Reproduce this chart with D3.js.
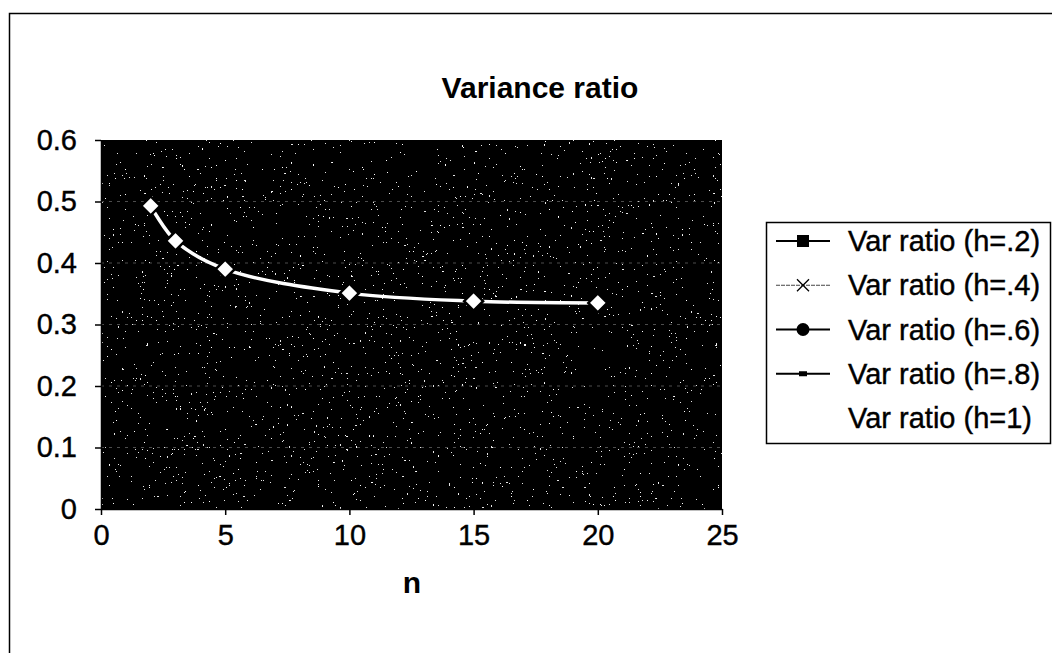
<!DOCTYPE html>
<html>
<head>
<meta charset="utf-8">
<script src="https://cdn.jsdelivr.net/npm/d3@7"></script>
<style>
  html, body { margin: 0; padding: 0; background: #fff; }
  svg { display: block; font-family: "Liberation Sans", Arial, Helvetica, sans-serif; }
</style>
</head>
<body>
<svg id="chart" width="1052" height="653"></svg>
<script>
// Chart data
const nValues = [2, 3, 5, 10, 15, 20];
const varRatioH1 = [0.493, 0.436, 0.390, 0.351, 0.338, 0.335];
const seriesNames = [
  "Var ratio (h=.2)",
  "Var ratio (h=.4)",
  "Var ratio (h=.6)",
  "Var ratio (h=.8)",
  "Var ratio (h=1)"
];
const seriesMarkers = ["square", "cross", "circle", "dash", "diamond"];
const yTicks = [0, 0.1, 0.2, 0.3, 0.4, 0.5, 0.6];
const xTicks = [0, 5, 10, 15, 20, 25];

const svg = d3.select("#chart");
const W = 1052, H = 653;
const plot = { left: 101, right: 722, top: 140, bottom: 509 };
const fontSize = 29;

// Outer chart frame (runs off the right and bottom edges)
svg.append("rect")
  .attr("x", 9.5).attr("y", 13.5)
  .attr("width", W + 20).attr("height", H + 20)
  .attr("fill", "#fff").attr("stroke", "#000").attr("stroke-width", 1.5);

// Speckled plot-area texture
const defs = svg.append("defs");
const grain = defs.append("filter").attr("id", "grain")
  .attr("x", 0).attr("y", 0).attr("width", "100%").attr("height", "100%");
grain.append("feTurbulence")
  .attr("type", "fractalNoise").attr("baseFrequency", 0.45)
  .attr("numOctaves", 2).attr("seed", 7).attr("result", "noise");
grain.append("feColorMatrix").attr("in", "noise").attr("type", "matrix")
  .attr("values", "0 0 0 0 1  0 0 0 0 1  0 0 0 0 1  1 0 0 0 0").attr("result", "wn");
const ct = grain.append("feComponentTransfer").attr("in", "wn");
ct.append("feFuncA").attr("type", "discrete")
  .attr("tableValues", "0 0 0 0 0 0 0 0 0 0 0 0 0 0 0 0.9 1 1 1 1");
defs.append("clipPath").attr("id", "plotClip").append("rect")
  .attr("x", plot.left).attr("y", plot.top)
  .attr("width", plot.right - plot.left).attr("height", plot.bottom - plot.top);

const x = d3.scaleLinear().domain([0, 25]).range([plot.left, plot.right]);
const y = d3.scaleLinear().domain([0, 0.6]).range([plot.bottom, plot.top]);

svg.append("rect")
  .attr("x", plot.left).attr("y", plot.top)
  .attr("width", plot.right - plot.left).attr("height", plot.bottom - plot.top)
  .attr("fill", "#000");
svg.append("rect")
  .attr("x", plot.left).attr("y", plot.top)
  .attr("width", plot.right - plot.left).attr("height", plot.bottom - plot.top)
  .attr("fill", "#fff").attr("filter", "url(#grain)")
  .attr("clip-path", "url(#plotClip)");

// Horizontal gridlines
svg.append("g").selectAll("line")
  .data(yTicks.filter(d => d > 0 && d < 0.6))
  .join("line")
  .attr("x1", plot.left).attr("x2", plot.right)
  .attr("y1", d => y(d)).attr("y2", d => y(d))
  .attr("stroke", "#aaa").attr("stroke-width", 1)
  .attr("stroke-dasharray", "3 5").attr("opacity", 0.45);

// Axes
const yAxis = svg.append("g")
  .attr("transform", `translate(${plot.left},0)`)
  .call(d3.axisLeft(y).tickValues(yTicks).tickSize(6).tickPadding(18)
    .tickFormat(d => d === 0 ? "0" : d3.format(".1f")(d)).tickSizeOuter(0));
const xAxis = svg.append("g")
  .attr("transform", `translate(0,${plot.bottom})`)
  .call(d3.axisBottom(x).tickValues(xTicks).tickSize(6).tickPadding(9).tickSizeOuter(0));
[yAxis, xAxis].forEach(a => {
  a.selectAll("text").attr("font-size", fontSize).attr("fill", "#000")
    .attr("font-family", "'Liberation Sans', Arial, sans-serif")
    .attr("stroke", "#000").attr("stroke-width", 0.4);
  a.selectAll("line").attr("stroke", "#000").attr("stroke-width", 1.5);
  a.select(".domain").attr("stroke", "#000").attr("stroke-width", 1.5);
});

// Variance ratio curve, h = 1
const pts = nValues.map((n, i) => [n, varRatioH1[i]]);
const line = d3.line().x(d => x(d[0])).y(d => y(d[1])).curve(d3.curveCatmullRom.alpha(0.5));
svg.append("path").datum(pts)
  .attr("d", line).attr("fill", "none")
  .attr("stroke", "#fff").attr("stroke-width", 3.5);
const diamond = d3.symbol().type(d3.symbolDiamond2).size(230);
svg.append("g").selectAll("path")
  .data(pts).join("path")
  .attr("transform", d => `translate(${x(d[0])},${y(d[1])})`)
  .attr("d", diamond)
  .attr("fill", "#fff").attr("stroke", "#000").attr("stroke-width", 2.5);

// Title and axis title
svg.append("text")
  .attr("x", 540).attr("y", 98).attr("text-anchor", "middle")
  .attr("font-size", 30).attr("font-weight", "bold").text("Variance ratio");
svg.append("text")
  .attr("x", 412).attr("y", 593).attr("text-anchor", "middle")
  .attr("font-size", 30).attr("font-weight", "bold").text("n");

// Legend
const leg = { x: 766, y: 222, w: 284, h: 221 };
svg.append("rect")
  .attr("x", leg.x + 0.5).attr("y", leg.y + 0.5)
  .attr("width", leg.w).attr("height", leg.h)
  .attr("fill", "#fff").attr("stroke", "#000").attr("stroke-width", 1.5);
const rowY = d3.scaleLinear().domain([0, 4]).range([241, 418]);
const rows = svg.append("g").selectAll("g")
  .data(seriesNames).join("g")
  .attr("transform", (d, i) => `translate(0,${rowY(i)})`);
rows.append("line")
  .attr("x1", 776).attr("x2", 830).attr("y1", 0).attr("y2", 0)
  .attr("stroke", (d, i) => i === 4 ? "#fff" : (i === 1 ? "#444" : "#000"))
  .attr("stroke-width", (d, i) => i === 1 ? 1 : 2)
  .attr("stroke-dasharray", (d, i) => i === 1 ? "4 1" : null);
rows.each(function (d, i) {
  const g = d3.select(this);
  const m = seriesMarkers[i];
  if (m === "square") {
    g.append("rect").attr("x", 797).attr("y", -6).attr("width", 12).attr("height", 12).attr("fill", "#000");
  } else if (m === "cross") {
    g.append("path").attr("d", "M797,-6L809,6M797,6L809,-6").attr("stroke", "#000").attr("stroke-width", 1.3);
  } else if (m === "circle") {
    g.append("circle").attr("cx", 803).attr("cy", 0).attr("r", 6.5).attr("fill", "#000");
  } else if (m === "dash") {
    g.append("rect").attr("x", 799).attr("y", -2.5).attr("width", 8).attr("height", 5).attr("fill", "#000");
  } else {
    g.append("path").attr("transform", "translate(803,0)").attr("d", diamond).attr("fill", "#fff");
  }
});
rows.append("text")
  .attr("x", 848).attr("y", 0).attr("dy", "0.35em")
  .attr("font-size", fontSize).attr("stroke", "#000").attr("stroke-width", 0.4)
  .text(d => d);
</script>
</body>
</html>
